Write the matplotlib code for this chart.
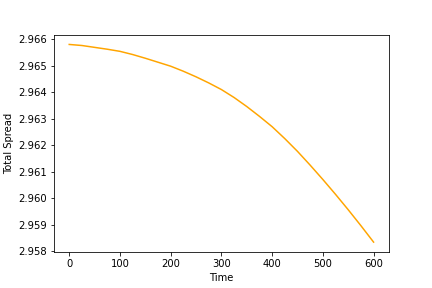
import matplotlib
matplotlib.use("Agg")
import matplotlib.pyplot as plt

# values
time = [0, 25, 50, 75, 100, 125, 150, 175, 200, 225, 250, 275, 300,
        325, 350, 375, 400, 425, 450, 475, 500, 525, 550, 575, 600]
total_spread = [2.96580, 2.96576, 2.96569, 2.96562, 2.96554, 2.96542, 2.96528,
                2.96513, 2.96498, 2.96479, 2.96458, 2.96435, 2.96410, 2.96380,
                2.96346, 2.96309, 2.96270, 2.96225, 2.96177, 2.96125, 2.96071,
                2.96015, 2.95957, 2.95897, 2.95835]


def main():
    fig, ax = plt.subplots(figsize=(6, 4), dpi=72)
    fig.subplots_adjust(left=0.125, right=0.9, bottom=0.125, top=0.88)

    ax.plot(time, total_spread, color="orange")
    ax.set_xlabel("Time")
    ax.set_ylabel("Total Spread")
    ax.ticklabel_format(axis="y", useOffset=False)

    fig.savefig("out.png", dpi=72)


if __name__ == '__main__':
    main()
